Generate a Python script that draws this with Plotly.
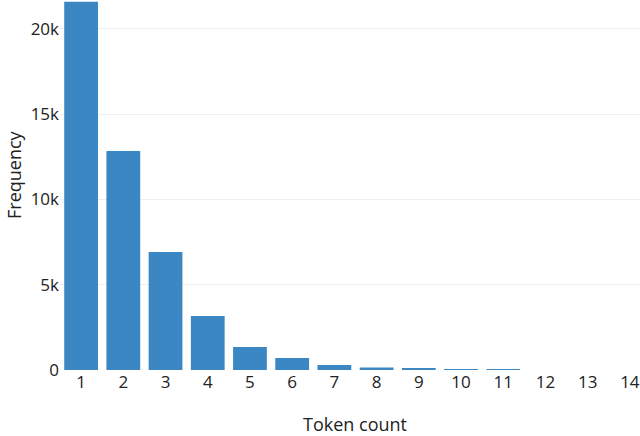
import plotly.graph_objects as go

token_counts = list(range(1, 15))
frequencies = [21600, 12850, 6920, 3170, 1350, 700, 300, 150, 70, 50, 20, 0, 0, 0]
y_tickvals = [0, 5000, 10000, 15000, 20000]
y_ticktext = ["0", "5k", "10k", "15k", "20k"]

fig = go.Figure(
    go.Bar(
        x=token_counts,
        y=frequencies,
        marker=dict(color="#3b87c3", line=dict(width=0)),
    )
)

fig.update_layout(
    width=640,
    height=436,
    margin=dict(l=60, r=0, t=0, b=66),
    plot_bgcolor="white",
    paper_bgcolor="white",
    font=dict(family="Open Sans", size=17, color="#222"),
    bargap=0.2,
    showlegend=False,
)
fig.update_xaxes(
    range=[0.5, 14.24],
    tickmode="array",
    tickvals=token_counts,
    showgrid=False,
    zeroline=False,
    automargin=False,
)
fig.update_yaxes(
    range=[0, 21700],
    tickvals=y_tickvals,
    ticktext=y_ticktext,
    gridcolor="#eeeeee",
    zeroline=False,
    automargin=False,
    ticks="",
)
# axis titles as annotations so they sit where the source has them
fig.add_annotation(
    text="Frequency", textangle=-90, showarrow=False,
    xref="paper", yref="paper", x=-60 / 580, y=0.527,
    xanchor="left", yanchor="middle", font=dict(size=18),
)
fig.add_annotation(
    text="Token count", showarrow=False,
    xref="paper", yref="paper", x=(355 - 60) / 580, y=-54 / 370,
    xanchor="center", yanchor="middle", font=dict(size=18),
)

# page has an 8px body margin by default; drop it so the figure fills the window
fig.write_html(
    "out.html",
    config={"displayModeBar": False},
    post_script="document.body.style.margin='0';",
)
